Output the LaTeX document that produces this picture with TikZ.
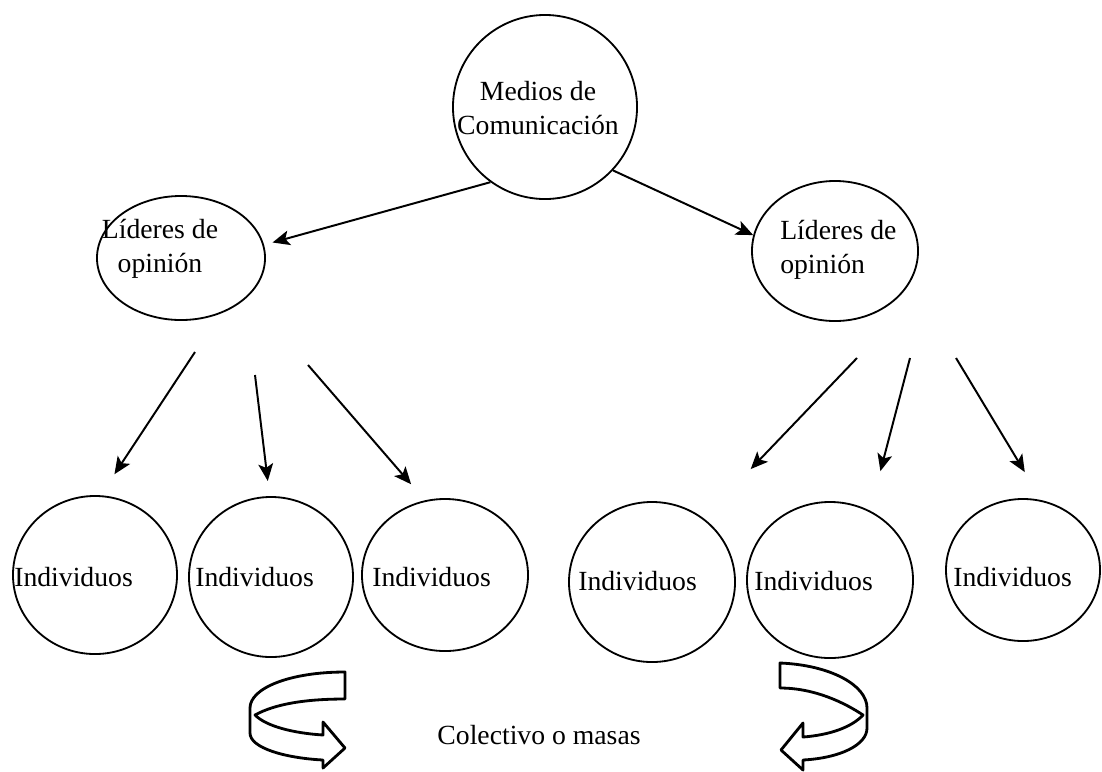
\documentclass[tikz,border=0pt]{standalone}
\usepackage{fontspec}
\setmainfont{Liberation Serif}
\usetikzlibrary{shapes.geometric,arrows.meta}
\tikzset{
    circulo/.style = {draw, ellipse, line width=1.3pt, inner sep=0pt},
    texto/.style = {inner sep=0pt, font=\fontsize{19.7}{24}\selectfont},
    flecha/.style = {-{Stealth[length=4.3mm,width=3.7mm,inset=1mm]}, line width=1.4pt},
    giro/.style = {draw, fill=white, line width=2pt, line join=round}
}
\begin{document}
\begin{tikzpicture}[x=0.025cm, y=-0.025cm]
        \useasboundingbox (0, 0) rectangle (1102, 771);
        \node [circulo, minimum width=4.6cm, minimum height=4.6cm] (med) at (545, 107) {};
        \node [circulo, minimum width=4.2cm, minimum height=3.1cm] (lid1) at (181, 258) {};
        \node [circulo, minimum width=4.15cm, minimum height=3.5cm] (lid2) at (835, 251) {};
        \node [circulo, minimum width=4.1cm, minimum height=3.95cm] (ind1) at (95, 575) {};
        \node [circulo, minimum width=4.1cm, minimum height=4cm] (ind2) at (271, 577) {};
        \node [circulo, minimum width=4.15cm, minimum height=3.8cm] (ind3) at (445, 575) {};
        \node [circulo, minimum width=4.15cm, minimum height=4cm] (ind4) at (652, 582) {};
        \node [circulo, minimum width=4.15cm, minimum height=3.9cm] (ind5) at (830, 580) {};
        \node [circulo, minimum width=3.85cm, minimum height=3.55cm] (ind6) at (1023, 570) {};
        \node [texto, align=center] (medtxt) at (538, 108) {Medios de\\Comunicación};
        \node [texto, align=center] (lid1txt) at (160, 249) {Líderes de\\opinión};
        \node [texto, align=left, anchor=west] (lid2txt) at (780, 250) {Líderes de\\opinión};
        \node [texto, anchor=west] (ind1txt) at (14, 577) {Individuos};
        \node [texto, anchor=west] (ind2txt) at (195, 577) {Individuos};
        \node [texto, anchor=west] (ind3txt) at (372, 577) {Individuos};
        \node [texto, anchor=west] (ind4txt) at (578, 581) {Individuos};
        \node [texto, anchor=west] (ind5txt) at (754, 581) {Individuos};
        \node [texto, anchor=west] (ind6txt) at (953, 577) {Individuos};
        \node [texto] (masas) at (539, 735) {Colectivo o masas};
        \coordinate (s1) at (195, 352);
        \coordinate (s2) at (255, 375);
        \coordinate (s3) at (308, 365);
        \coordinate (s4) at (857, 358);
        \coordinate (s5) at (910, 358);
        \coordinate (s6) at (956, 358);
        \draw [flecha, shorten >=0.22cm] (med.234) -- (lid1.9);
        \draw [flecha] (med.317) -- (lid2.169);
        \draw [flecha, shorten >=0.63cm] (s1) -- (ind1.86);
        \draw [flecha, shorten >=0.38cm] (s2) -- (ind2.91);
        \draw [flecha, shorten >=0.53cm] (s3) -- (ind3.105);
        \draw [flecha, shorten >=1.7cm] (s4) -- (ind4.51);
        \draw [flecha, shorten >=1.02cm] (s5) -- (ind5.60);
        \draw [flecha, shorten >=0.82cm] (s6) -- (ind6.75);
        \draw [giro] (255, 715) .. controls (275, 704) and (305, 699) .. (345, 699) -- (345, 672)
            .. controls (290, 672) and (250, 688) .. (250, 708) -- (250, 733)
            .. controls (250, 748) and (285, 758) .. (323, 760) -- (323, 768) -- (345, 748)
            -- (323, 722) -- (323, 735) .. controls (292, 733) and (266, 726) .. (255, 715) -- cycle;
        \draw [giro] (863, 715) .. controls (845, 703) and (815, 688) .. (780, 688) -- (780, 663)
            .. controls (830, 665) and (867, 685) .. (867, 708) -- (867, 728)
            .. controls (867, 745) and (840, 758) .. (803, 760) -- (803, 770) -- (781, 750)
            -- (803, 723) -- (803, 737) .. controls (830, 735) and (852, 727) .. (863, 715) -- cycle;
\end{tikzpicture}
\end{document}
